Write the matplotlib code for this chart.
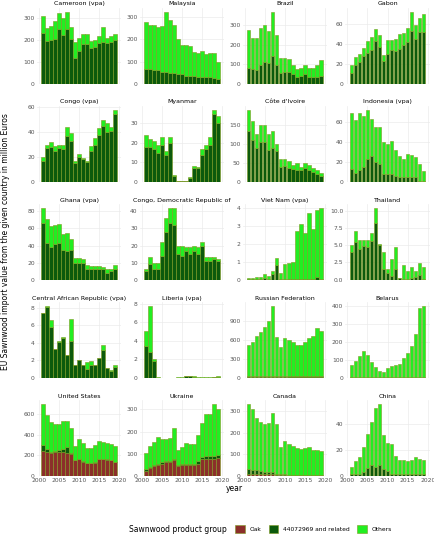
import numpy as np
import matplotlib.pyplot as plt
from matplotlib.ticker import MultipleLocator
from matplotlib.patches import Patch
from matplotlib.offsetbox import HPacker

years = list(range(2001, 2020))

countries = ['Cameroon (vpa)', 'Malaysia', 'Brazil', 'Gabon',
             'Congo (vpa)', 'Myanmar', "Côte d'Ivoire", 'Indonesia (vpa)',
             'Ghana (vpa)', 'Congo, Democratic Republic of', 'Viet Nam (vpa)', 'Thailand',
             'Central African Republic (vpa)', 'Liberia (vpa)', 'Russian Federation', 'Belarus',
             'United States', 'Ukraine', 'Canada', 'China']

# total import value per year (million euro)
totals = {
    'Cameroon (vpa)': [310,255,265,290,325,300,330,260,190,210,230,230,195,200,220,260,210,220,230],
    'Malaysia': [280,265,265,255,260,325,290,265,200,175,175,170,145,140,150,135,140,140,100],
    'Brazil': [275,235,235,285,300,270,370,250,130,130,125,95,75,80,95,80,80,95,120],
    'Gabon': [19,27,30,36,43,47,55,49,29,44,44,45,50,51,56,72,59,66,70],
    'Congo (vpa)': [20,30,32,29,30,30,44,39,17,22,19,17,29,35,43,50,47,44,58],
    'Myanmar': [24,22,21,19,23,16,23,3.5,0.3,0.2,0.5,2.5,8,7.5,17,19,23,37,34],
    "Côte d'Ivoire": [190,160,125,150,150,125,135,100,60,60,55,45,50,40,50,45,35,30,22],
    'Indonesia (vpa)': [69,62,69,66,72,63,55,55,40,38,41,32,26,23,28,27,25,18,11],
    'Ghana (vpa)': [84,71,63,64,65,54,55,48,25,25,24,17,16,16,16,15,12,13,17],
    'Congo, Democratic Republic of': [6,13,10,10,22,36,42,42,20,20,19,19,20,19,22,13,13,13,12],
    'Viet Nam (vpa)': [0.1,0.1,0.15,0.15,0.3,0.2,0.5,1.2,0.4,0.85,0.95,1.0,2.7,3.1,2.6,3.7,2.85,3.9,4.0],
    'Thailand': [5.0,7.0,5.8,5.8,5.8,6.8,10.4,5.2,4.0,1.5,3.0,4.8,0.3,2.1,1.2,1.8,1.3,2.4,1.8],
    'Central African Republic (vpa)': [7.4,8.2,6.6,3.3,4.2,4.6,2.6,6.7,1.4,2.0,1.5,1.8,1.9,1.5,2.2,3.7,1.1,0.9,1.4],
    'Liberia (vpa)': [5.1,7.8,2.0,0.05,0,0,0,0,0.05,0.05,0.2,0.2,0.15,0.1,0.05,0.05,0.05,0.1,0.15],
    'Russian Federation': [520,570,660,720,800,900,1130,640,490,620,600,560,510,520,570,620,660,780,740],
    'Belarus': [70,95,120,150,125,85,60,40,30,55,65,70,75,110,140,175,245,390,400],
    'United States': [700,590,520,500,505,535,535,470,290,355,320,275,270,300,340,330,320,305,290],
    'Ukraine': [105,135,155,175,165,165,170,215,115,130,150,145,145,185,240,280,280,325,300],
    'Canada': [335,310,270,250,240,245,295,240,135,160,150,140,130,125,130,135,120,120,115],
    'China': [7,11,14,22,32,41,52,55,31,25,24,15,12,12,11,12,14,13,12],
}

# "44072969 and related" part
related = {
    'Cameroon (vpa)': [235,195,200,205,250,225,250,205,120,150,180,180,165,170,185,190,185,190,200],
    'Malaysia': [65,65,60,60,55,55,50,50,45,45,35,35,35,30,30,30,30,25,20],
    'Brazil': [80,75,70,95,110,105,145,95,55,60,60,50,35,40,50,35,35,35,40],
    'Gabon': [11,19,22,28,31,34,43,37,23,30,34,33,35,39,42,53,45,52,52],
    'Congo (vpa)': [17,27,28,25,27,26,37,33,15,20,18,16,25,30,38,45,40,41,55],
    'Myanmar': [18,18,17,15,19,14,20,3,0.2,0.1,0.3,2,7,7,14,17,19,35,30],
    "Côte d'Ivoire": [135,110,90,105,105,85,90,80,40,42,35,33,30,30,35,30,25,20,15],
    'Indonesia (vpa)': [13,9,12,15,23,26,20,18,8,8,8,6,5,5,5,5,5,1,0.5],
    'Ghana (vpa)': [66,43,38,42,43,35,33,35,20,20,19,13,13,13,13,13,8,10,13],
    'Congo, Democratic Republic of': [5,9,6,6,14,28,33,32,15,14,17,15,17,15,20,11,11,12,11],
    'Viet Nam (vpa)': [0.02,0.02,0.05,0.05,0.1,0.05,0.3,0.8,0.05,0.05,0.05,0.05,0.05,0.05,0.05,0.05,0.05,0.15,0.05],
    'Thailand': [4.0,5.5,4.5,4.9,4.7,5.6,8.2,5.0,1.5,0.9,0.5,1.6,0.2,0.1,0.1,0.2,0.4,0.7,0.1],
    'Central African Republic (vpa)': [7.4,8.1,5.8,3.3,4.1,4.5,2.6,4.2,1.4,2.0,1.4,1.0,1.5,1.5,2.2,3.2,1.1,0.8,1.2],
    'Liberia (vpa)': [3.5,2.8,1.8,0,0,0,0,0,0,0,0.2,0.2,0.1,0,0,0,0,0.1,0.1],
    'Russian Federation': [20]*19,
    'Belarus': [5]*19,
    'United States': [60,30,10,10,20,30,55,10,5,5,5,5,5,5,5,5,5,5,5],
    'Ukraine': [10,5,5,5,5,5,5,5,5,5,5,5,5,10,10,15,15,15,15],
    'Canada': [20,15,15,15,10,10,10,5,3,3,2,2,2,2,2,2,2,2,2],
    'China': [1,1,1,3,6,8,7,8,5,4,1,1,1,1,1,1,1.5,1,1],
}

# Oak part (zero where not listed)
oak = {
    'Russian Federation': [5]*19,
    'United States': [240,230,220,230,235,235,225,215,150,160,135,120,120,125,160,160,155,150,130],
    'Ukraine': [20,35,45,50,55,60,60,70,45,50,50,50,50,55,75,75,75,75,80],
    'Canada': [10,10,10,8,8,8,8,5,5,3,3,3,3,3,3,3,3,3,3],
}

# y tick spacing per panel
ystep = [100, 100, 100, 20, 20, 10, 50, 20, 20, 10, 1, 2.5, 2, 2, 300, 100, 200, 100, 100, 20]

c_oak = '#8b2f2a'
c_rel = '#0c5a0c'
c_oth = '#22ee22'
edge = '#7f9a20'

fig, axes = plt.subplots(5, 4, figsize=(4.34, 5.5), dpi=100)
plt.subplots_adjust(left=0.085, right=0.99, top=0.985, bottom=0.135, wspace=0.22, hspace=0.3)

for ax, name, st in zip(axes.flat, countries, ystep):
    tot = np.array(totals[name], dtype=float)
    rel = np.array(related[name], dtype=float)
    ok = np.array(oak.get(name, [0]*19), dtype=float)
    oth = np.clip(tot - rel - ok, 0, None)
    kw = dict(width=0.9, edgecolor=edge, linewidth=0.4)
    ax.bar(years, ok, color=c_oak, **kw)
    ax.bar(years, rel, bottom=ok, color=c_rel, **kw)
    ax.bar(years, oth, bottom=ok + rel, color=c_oth, **kw)
    ax.set_title(name, fontsize=4.5, pad=2)
    ax.set_xlim(1999.5, 2020.5)
    ax.set_xticks([2000, 2005, 2010, 2015, 2020])
    ax.yaxis.set_major_locator(MultipleLocator(st))
    ax.tick_params(labelsize=4.3, length=0, pad=1.5, colors='#555555')
    ax.grid(True, color='#ebebeb', linewidth=0.5)
    ax.set_axisbelow(True)
    for s in ax.spines.values():
        s.set_visible(False)
    if name not in countries[-4:]:
        ax.set_xticklabels([])

fig.text(0.012, 0.56, 'EU Sawnwood import value from the given country in million Euros',
         rotation=90, va='center', ha='center', fontsize=5.5)
fig.text(0.54, 0.108, 'year', ha='center', fontsize=5.5)

handles = [Patch(facecolor=c_oak, edgecolor=edge, linewidth=0.4),
           Patch(facecolor=c_rel, edgecolor=edge, linewidth=0.4),
           Patch(facecolor=c_oth, edgecolor=edge, linewidth=0.4)]
fig.legend(handles, ['Oak', '44072969 and related', 'Others'], loc='lower center',
           bbox_to_anchor=(0.6, 0.02), ncol=3, frameon=False, fontsize=4.3,
           title='Sawnwood product group', title_fontsize=5.5,
           handlelength=1.6, handleheight=1.6, columnspacing=1.2)
# title to the left of the entries
box = fig.legends[0]._legend_box
box._children = [HPacker(children=box._children, pad=0, sep=6, align='center')]
box.__class__ = HPacker
box.sep = 6
box.align = 'center'

fig.savefig('out.png', dpi=100)
